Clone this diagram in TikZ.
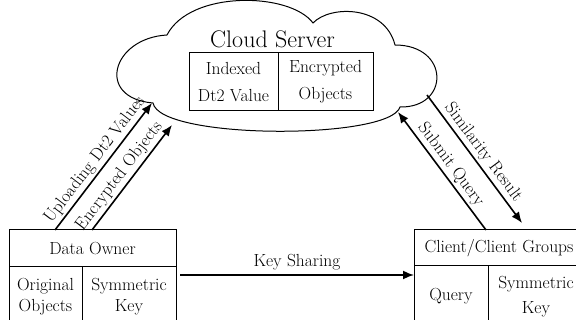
\documentclass[tikz,border=0pt]{standalone}
\usetikzlibrary{arrows.meta, positioning}

\begin{document}
\begin{tikzpicture}[x=1pt, y=-1pt,
    every node/.style={font=\fontsize{17.5}{21}\selectfont, inner sep=0pt, outer sep=0pt},
    cell/.style={draw, line width=1pt, align=center},
    flow/.style={-{Latex[length=11pt, width=9pt]}, line width=1.6pt},
    lbl/.style={inner sep=3pt}]
    \useasboundingbox (0,0) rectangle (576,320);
    \clip (0,0) rectangle (576,320);

    % Draw cloud outline
    \draw[line width=1pt] (167,35) .. controls (112,38) and (95,98) .. (153,103)
        .. controls (160,140) and (390,140) .. (400,107)
        .. controls (450,108) and (450,45) .. (395,45)
        .. controls (385,5) and (330,5) .. (313,23)
        .. controls (290,-8) and (190,-10) .. (167,35) -- cycle;

    % Cloud server and its table
    \node[font=\fontsize{24}{28}\selectfont] (cloud) at (272.5,39) {Cloud Server};
    \node[cell, minimum width=89pt, minimum height=58pt, font=\fontsize{17.5}{27}\selectfont] (index) at (233.5,82) {Indexed\\Dt2 Value};
    \node[cell, minimum width=95pt, minimum height=58pt, anchor=west, font=\fontsize{17.5}{27}\selectfont] (encobj) at (index.east) {Encrypted\\Objects};

    % Data owner
    \node[cell, minimum width=167pt, minimum height=37pt] (owner) at (92.5,248.5) {Data Owner};
    \node[cell, minimum width=73pt, minimum height=60pt, anchor=north west] (origobj) at (owner.south west) {Original\\Objects};
    \node[cell, minimum width=94pt, minimum height=60pt, anchor=north west] (ownerkey) at (origobj.north east) {Symmetric\\Key};

    % Client side
    \node[cell, minimum width=170pt, minimum height=36pt] (client) at (499,248) {Client/Client Groups};
    \node[cell, minimum width=74pt, minimum height=61pt, anchor=north west] (query) at (client.south west) {Query};
    \node[cell, minimum width=96pt, minimum height=61pt, anchor=north west, font=\fontsize{17.5}{25}\selectfont] (clientkey) at (query.north east) {Symmetric\\Key};

    % Arrow ends on the cloud
    \coordinate (dtvals) at (152,103);
    \coordinate (encin) at (172,125);
    \coordinate (queryin) at (398,112);
    \coordinate (resout) at (427,95);
    \coordinate (keyfrom) at (180,275);

    % Uploads
    \draw[flow] ([xshift=46pt]owner.north west) -- node[lbl, sloped, above] {Uploading Dt2 Values} (dtvals);
    \draw[flow] ([xshift=83pt]owner.north west) -- node[lbl, sloped, above, pos=0.45] {Encrypted Objects} (encin);

    % Query and result
    \draw[flow] ([xshift=72pt]client.north west) -- node[lbl, sloped, above] {Submit Query} (queryin);
    \draw[flow] (resout) -- node[lbl, sloped, above] {Similarity Result} ([xshift=108pt, yshift=7pt]client.north west);

    % Key sharing
    \draw[flow] (keyfrom) -- node[lbl, above, inner sep=5pt] {Key Sharing} (keyfrom -| query.west);
\end{tikzpicture}
\end{document}
